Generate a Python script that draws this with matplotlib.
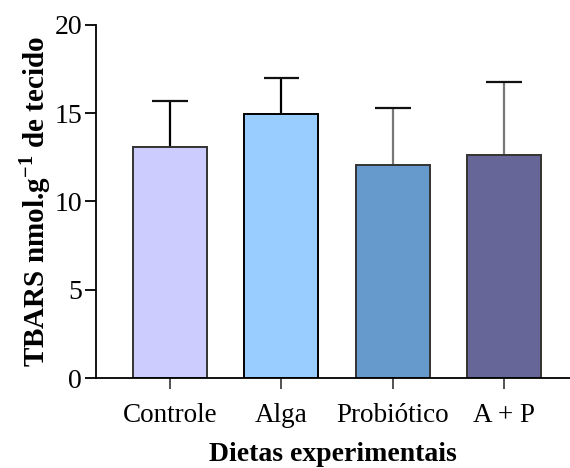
import matplotlib
matplotlib.use("Agg")
import matplotlib.pyplot as plt
import numpy as np

groups = ["Controle", "Alga", "Probiótico", "A + P"]
means = [13.09, 14.96, 12.07, 12.61]
errs = [2.61, 2.02, 3.21, 4.13]
colors = ["#CCCCFF", "#99CCFF", "#6699CC", "#666699"]
edges = ["#333333", "#000000", "#333333", "#333333"]
stem_colors = ["#000000", "#000000", "#777777", "#777777"]

plt.rcParams["font.family"] = ["Liberation Serif", "DejaVu Serif"]
plt.rcParams["mathtext.fontset"] = "custom"
plt.rcParams["mathtext.rm"] = "Liberation Serif"
plt.rcParams["mathtext.bf"] = "Liberation Serif:bold"

fig = plt.figure(figsize=(5.7, 4.68), dpi=100)
ax = fig.add_axes([0.1684, 0.1923, 0.8316, 0.7549])

x = np.arange(len(groups))
ax.bar(x, means, width=0.664, color=colors, edgecolor=edges, linewidth=1.4, zorder=2)
# upper-only error bars: stem then cap
cap_half = 0.16
tops = [m + e for m, e in zip(means, errs)]
ax.vlines(x, means, tops, colors=stem_colors, linewidth=1.6, zorder=1)
ax.hlines(tops, x - cap_half, x + cap_half, colors="#111111", linewidth=1.6, zorder=1)

ax.set_xlim(-0.664, 3.59)
ax.set_ylim(0, 20)
ax.set_yticks([0, 5, 10, 15, 20])
ax.set_xticks(x, groups)
ax.spines[["top", "right"]].set_visible(False)
for s in ["left", "bottom"]:
    ax.spines[s].set_linewidth(1.3)
ax.tick_params(axis="y", length=8, width=1.3, labelsize=20, pad=2)
ax.tick_params(axis="x", length=8, width=1.3, labelsize=19.5, pad=10, color="#444444")

ax.set_xlabel("Dietas experimentais", fontsize=20, fontweight="bold", labelpad=10)
ax.set_ylabel(r"TBARS nmol.g$^{\mathbf{-1}}$ de tecido", fontsize=21,
              fontweight="bold", labelpad=1)

fig.savefig("out.png", dpi=100)
